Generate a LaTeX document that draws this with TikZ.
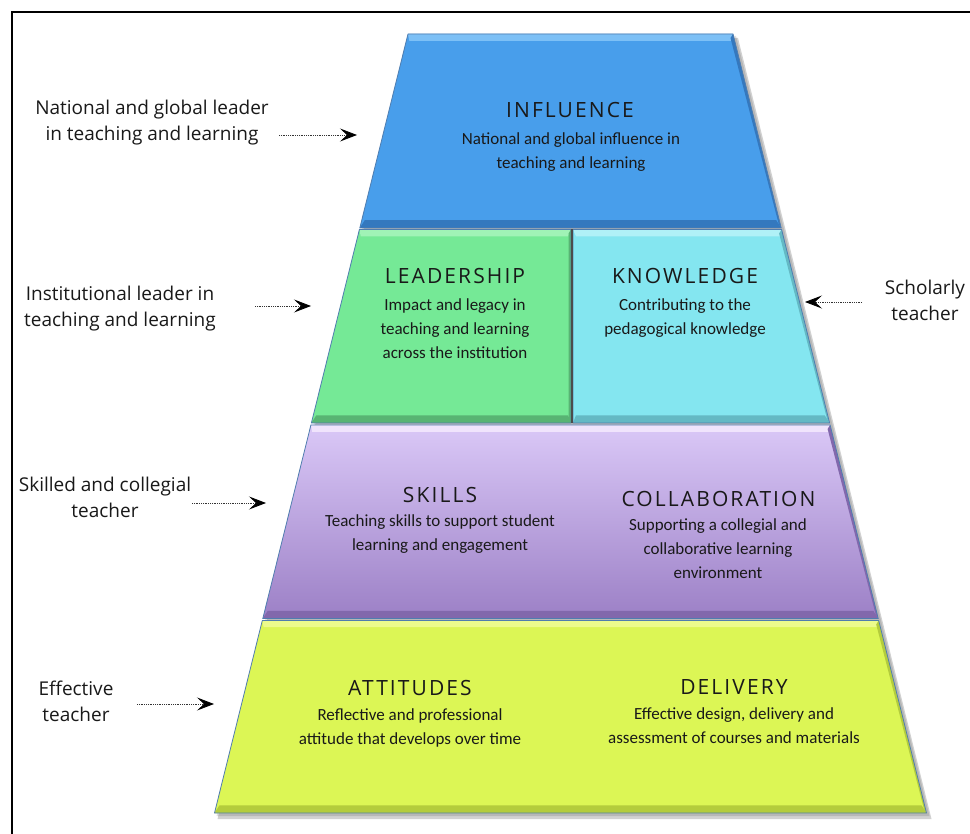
\documentclass[tikz,border=0pt]{standalone}
\usepackage{fontspec}
\setmainfont{Open Sans}
\newfontfamily\bodyfont{Carlito}
\newfontfamily\titlefont[LetterSpace=10]{Open Sans}
\usetikzlibrary{calc,arrows.meta}
\definecolor{inflC}{RGB}{72,158,235}
\definecolor{inflL}{RGB}{125,192,246}
\definecolor{inflD}{RGB}{52,120,190}
\definecolor{leadC}{RGB}{117,233,150}
\definecolor{leadL}{RGB}{160,243,182}
\definecolor{leadD}{RGB}{88,180,115}
\definecolor{knowC}{RGB}{132,230,240}
\definecolor{knowL}{RGB}{176,241,247}
\definecolor{knowD}{RGB}{100,185,196}
\definecolor{skilT}{RGB}{218,200,247}
\definecolor{skilB}{RGB}{156,128,198}
\definecolor{skilL}{RGB}{240,228,252}
\definecolor{skilD}{RGB}{130,104,172}
\definecolor{attC}{RGB}{220,246,85}
\definecolor{attL}{RGB}{236,251,140}
\definecolor{attD}{RGB}{180,204,60}
\definecolor{edgeC}{RGB}{80,125,175}
\definecolor{txtC}{RGB}{25,25,25}
\newcommand\bevelquad[6]{%
  \fill[#5] (#1) -- (#2) -- ($(#2)!0.035!(#3)+(-3,0)$) -- ($(#1)!0.035!(#4)+(3,0)$) -- cycle;
  \fill[#6] (#4) -- (#3) -- ($(#3)!0.04!(#2)+(-3,0)$) -- ($(#4)!0.04!(#1)+(3,0)$) -- cycle;
  \fill[#6] (#2) -- (#3) -- ($(#3)+(-2.5,-4)$) -- ($(#2)+(-2.5,4)$) -- cycle;
}
\begin{document}
\begin{tikzpicture}[x=1pt,y=-1pt,
  band/.style={draw=edgeC,line width=0.8pt,line join=round},
  ttl/.style={font=\titlefont\fontsize{21}{24}\selectfont,text=txtC,anchor=base,inner sep=0pt},
  body/.style={font=\bodyfont\fontsize{17}{24}\selectfont,text=txtC,align=center,anchor=north,inner sep=0pt},
  side/.style={font=\fontsize{19}{26}\selectfont,text=txtC,align=center,anchor=north,inner sep=0pt},
  ptr/.style={densely dotted,line width=0.8pt,draw=black!80,-{Stealth[length=17pt,width=13pt,inset=7pt,black]}}
]
\useasboundingbox (0,0) rectangle (970,834);
\fill[white] (0,0) rectangle (970,834);
\draw[line width=2pt] (12,12) rectangle (985,850);

% corners
\coordinate (i1) at (408,34);   \coordinate (i2) at (733,34);
\coordinate (i3) at (781.2,228); \coordinate (i4) at (359.8,228);
\coordinate (l1) at (359.4,229.5); \coordinate (l2) at (571,229.5);
\coordinate (l3) at (571,423);   \coordinate (l4) at (311.4,423);
\coordinate (k1) at (573,229.5); \coordinate (k2) at (781.6,229.5);
\coordinate (k3) at (829.6,423); \coordinate (k4) at (573,423);
\coordinate (s1) at (310.9,425); \coordinate (s2) at (830.1,425);
\coordinate (s3) at (878.2,618.5); \coordinate (s4) at (262.8,618.5);
\coordinate (a1) at (262.3,620.5); \coordinate (a2) at (878.7,620.5);
\coordinate (a3) at (926.5,813); \coordinate (a4) at (214.5,813);

% shadow
\fill[black,opacity=0.18] ($(i1)+(3,4)$) -- ($(i2)+(5,4)$) -- ($(a3)+(5,6)$) -- ($(a4)+(3,6)$) -- cycle;
\fill[black,opacity=0.12] ($(i1)+(2,2)$) -- ($(i2)+(3,2)$) -- ($(a3)+(3,3)$) -- ($(a4)+(2,3)$) -- cycle;

% INFLUENCE band
\fill[inflC] (i1) -- (i2) -- (i3) -- (i4) -- cycle;
\bevelquad{i1}{i2}{i3}{i4}{inflL}{inflD}
\draw[band] (i1) -- (i2) -- (i3) -- (i4) -- cycle;

% LEADERSHIP band
\fill[leadC] (l1) -- (l2) -- (l3) -- (l4) -- cycle;
\bevelquad{l1}{l2}{l3}{l4}{leadL}{leadD}
\draw[band] (l1) -- (l2) -- (l3) -- (l4) -- cycle;

% KNOWLEDGE band
\fill[knowC] (k1) -- (k2) -- (k3) -- (k4) -- cycle;
\bevelquad{k1}{k2}{k3}{k4}{knowL}{knowD}
\draw[band] (k1) -- (k2) -- (k3) -- (k4) -- cycle;
\draw[black!70,line width=1.2pt] (572,229.5) -- (572,423);

% SKILLS band
\shade[top color=skilT,bottom color=skilB] (s1) -- (s2) -- (s3) -- (s4) -- cycle;
\bevelquad{s1}{s2}{s3}{s4}{skilL}{skilD}
\draw[band] (s1) -- (s2) -- (s3) -- (s4) -- cycle;

% ATTITUDES band
\fill[attC] (a1) -- (a2) -- (a3) -- (a4) -- cycle;
\bevelquad{a1}{a2}{a3}{a4}{attL}{attD}
\draw[band] (a1) -- (a2) -- (a3) -- (a4) -- cycle;

% titles and descriptions
\node[ttl] (tinf) at (570,118) {INFLUENCE};
\node[body] (binf) at (571,132) {National and global influence in\\teaching and learning};
\node[ttl] (tlea) at (455,284) {LEADERSHIP};
\node[body] (blea) at (455,298) {Impact and legacy in\\teaching and learning\\across the institution};
\node[ttl] (tkno) at (685,284) {KNOWLEDGE};
\node[body] (bkno) at (685,298) {Contributing to the\\pedagogical knowledge};
\node[ttl] (tski) at (440,502) {SKILLS};
\node[body] (bski) at (440,514) {Teaching skills to support student\\learning and engagement};
\node[ttl] (tcol) at (718.5,506) {COLLABORATION};
\node[body] (bcol) at (718,518) {Supporting a collegial and\\collaborative learning\\environment};
\node[ttl] (tatt) at (410,695) {ATTITUDES};
\node[body] (batt) at (410,708) {Reflective and professional\\attitude that develops over time};
\node[ttl] (tdel) at (734,694) {DELIVERY};
\node[body] (bdel) at (734,707) {Effective design, delivery and\\assessment of courses and materials};

% side labels
\node[side] (sinf) at (152,100) {National and global leader\\in teaching and learning};
\node[side] (slea) at (120,286) {Institutional leader in\\teaching and learning};
\node[side] (skno) at (925,280) {Scholarly\\teacher};
\node[side] (sski) at (105,477) {Skilled and collegial\\teacher};
\node[side] (satt) at (76,681) {Effective\\teacher};

% pointer ends
\coordinate (p1s) at (279,135); \coordinate (p1e) at (357,135);
\coordinate (p2s) at (255,306); \coordinate (p2e) at (311,306);
\coordinate (p3s) at (862,302); \coordinate (p3e) at (805,302);
\coordinate (p4s) at (192,503); \coordinate (p4e) at (266,503);
\coordinate (p5s) at (137,704); \coordinate (p5e) at (214,704);
\draw[ptr] (p1s) -- (p1e);
\draw[ptr] (p2s) -- (p2e);
\draw[ptr] (p3s) -- (p3e);
\draw[ptr] (p4s) -- (p4e);
\draw[ptr] (p5s) -- (p5e);
\end{tikzpicture}
\end{document}
